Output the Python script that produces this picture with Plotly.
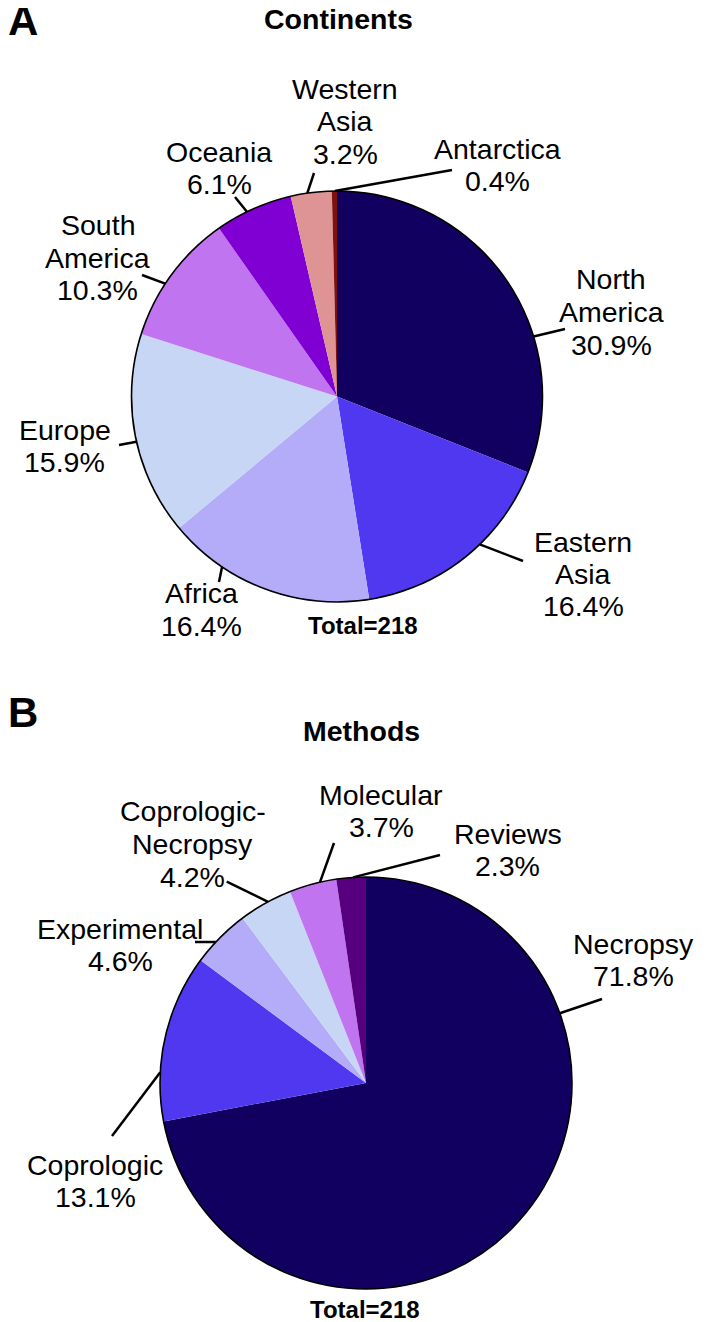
import math
import plotly.graph_objects as go

# ---------------- data ----------------
continents = ["North America", "Eastern Asia", "Africa", "Europe",
              "South America", "Oceania", "Western Asia", "Antarctica"]
continent_pct = [30.9, 16.4, 16.4, 15.9, 10.3, 6.1, 3.2, 0.4]
continent_lines = [["North", "America"], ["Eastern", "Asia"], ["Africa"], ["Europe"],
                   ["South", "America"], ["Oceania"], ["Western", "Asia"], ["Antarctica"]]

methods = ["Necropsy", "Coprologic", "Experimental", "Coprologic-Necropsy",
           "Molecular", "Reviews"]
method_pct = [71.8, 13.1, 4.6, 4.2, 3.7, 2.3]
method_lines = [["Necropsy"], ["Coprologic"], ["Experimental"], ["Coprologic-", "Necropsy"],
                ["Molecular"], ["Reviews"]]

total_n = 218

# ---------------- styles / layout ----------------
# The page body has an 8px margin, so the figure is drawn 8px in from the
# window's top-left corner; all positions below are window pixels.
OFF = 8
W, H = 722 - OFF, 1322 - OFF

continent_colors = ["#120060", "#5038F0", "#B4ACF8", "#C6D6F4",
                    "#C074F0", "#8000D4", "#DE9494", "#801010"]
method_colors = ["#120060", "#5038F0", "#B4ACF8", "#C6D6F4", "#C074F0", "#560080"]

FONT = "Liberation Sans, Arial, sans-serif"
LABEL_SIZE = 28.5
LINE_H = 32.5

# pie geometry in window pixels (center x, center y, radius)
PIE_A = (337, 396.5, 205.5)
PIE_B = (366, 1083, 206)

# label placement: (label centre px, leader outer end px, leader angle deg clockwise from top)
continent_place = [
    ((611, 312), (565, 329), 73),
    ((583, 574), (523, 561), 136),
    ((202, 609.5), (219, 582), 214),
    ((65, 446), (119, 445), 257.3),
    ((97.5, 257.5), (142, 275), 303.3),
    ((219, 168), (235, 197), 334),
    ((345, 121), (314, 173), 351.7),
    ((497, 165), (452, 170), 359.4),
]
method_place = [
    ((633, 960), (602, 999), 70.2),
    ((95, 1181), (112, 1136), 273),
    ((120, 945), (195, 942), 313.2),
    ((192.5, 844), (226.7, 881.7), 331.6),
    ((381, 811), (334, 843), 347.1),
    ((508, 850), (440, 855), 356.4),
]


def px(x):
    return (x - OFF) / W


def py(y):
    return 1 - (y - OFF) / H


fig = go.Figure()
annotations = []
shapes = []


def add_pie(labels, values, colors, geom, line_sets, places, total_pos):
    cx, cy, r = geom
    dom = dict(x=[px(cx - r), px(cx + r)], y=[py(cy + r), py(cy - r)])
    fig.add_trace(go.Pie(labels=labels, values=values, sort=False,
                         direction="clockwise", rotation=0,
                         marker=dict(colors=colors, line=dict(width=0)),
                         textinfo="none", hoverinfo="label+percent",
                         showlegend=False, domain=dom))
    # outer outline: a single transparent full slice
    fig.add_trace(go.Pie(labels=["outline"], values=[1], sort=False,
                         marker=dict(colors=["rgba(0,0,0,0)"],
                                     line=dict(color="black", width=1.6)),
                         textinfo="none", hoverinfo="skip",
                         showlegend=False, domain=dom))
    for name_lines, val, (lc, outer, ang) in zip(line_sets, values, places):
        lines = name_lines + [f"{val}%"]
        n = len(lines)
        for i, t in enumerate(lines):
            yy = lc[1] + (i - (n - 1) / 2) * LINE_H
            annotations.append(dict(x=px(lc[0]), y=py(yy), xref="paper", yref="paper",
                                    text=t, showarrow=False, xanchor="center",
                                    yanchor="middle",
                                    font=dict(family=FONT, size=LABEL_SIZE, color="black")))
        a = math.radians(ang)
        ix, iy = cx + r * math.sin(a), cy - r * math.cos(a)
        shapes.append(dict(type="line", xref="paper", yref="paper",
                           x0=px(ix), y0=py(iy), x1=px(outer[0]), y1=py(outer[1]),
                           line=dict(color="black", width=2.5)))
    annotations.append(dict(x=px(total_pos[0]), y=py(total_pos[1]), xref="paper", yref="paper",
                            text=f"<b>Total={total_n}</b>", showarrow=False,
                            xanchor="center", yanchor="middle",
                            font=dict(family=FONT, size=24, color="black")))


add_pie(continents, continent_pct, continent_colors, PIE_A, continent_lines,
        continent_place, (363, 625.5))
add_pie(methods, method_pct, method_colors, PIE_B, method_lines,
        method_place, (365, 1309))

# titles and panel letters
for txt, (x, y), size in [("Continents", (338, 19), 28.5), ("Methods", (361, 731), 28.5),
                          ("A", (23, 20), 42), ("B", (23, 712), 42)]:
    annotations.append(dict(x=px(x), y=py(y), xref="paper", yref="paper",
                            text=f"<b>{txt}</b>", showarrow=False,
                            xanchor="center", yanchor="middle",
                            font=dict(family=FONT, size=size, color="black")))

fig.update_layout(width=W, height=H, margin=dict(l=0, r=0, t=0, b=0),
                  paper_bgcolor="white", plot_bgcolor="white",
                  annotations=annotations, shapes=shapes)

fig.write_html("out.html")
